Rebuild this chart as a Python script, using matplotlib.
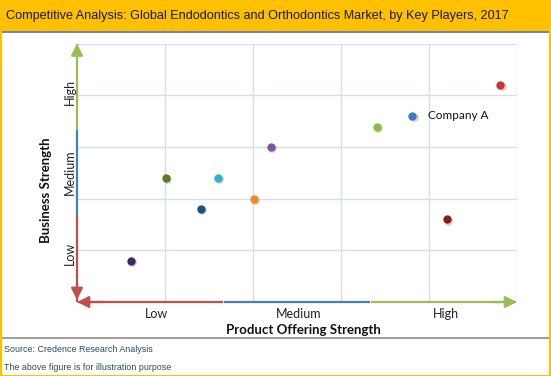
import matplotlib
matplotlib.use("Agg")
import matplotlib.pyplot as plt
from matplotlib.patches import Rectangle

# data (0..5 scale on both axes)
companies = ["P1", "P2", "P3", "P4", "P5", "P6", "P7", "Company A", "P9", "P10"]
product_strength = [0.61, 1.01, 1.60, 1.41, 2.01, 2.20, 3.41, 3.81, 4.81, 4.20]
business_strength = [0.80, 2.40, 2.40, 1.80, 2.00, 3.00, 3.39, 3.60, 4.20, 1.60]
point_colors = ["#3d2b5a", "#5b7a24", "#33afcf", "#1f4e85", "#f28a24",
                "#7c55a8", "#8dbc3c", "#3c78c2", "#cc3333", "#8c1c1c"]
labelled = ["Company A"]
levels = ["Low", "Medium", "High"]
level_colors = ["#c0504d", "#4a7ebb", "#9bbb59"]

W, H = 551, 376
fig = plt.figure(figsize=(W / 100, H / 100), dpi=100)
fig.patch.set_facecolor("white")

# title band
fig.patches.append(Rectangle((0, 1 - 31 / H), 1, 31 / H, transform=fig.transFigure,
                             facecolor="#ffc000", edgecolor="none", zorder=0))
fig.patches.append(Rectangle((0, 1 - 33 / H), 1, 2 / H, transform=fig.transFigure,
                             facecolor="#6f88a8", edgecolor="none", zorder=1))
# outer gold border
fig.patches.append(Rectangle((0.5 / W, 0.5 / H), 1 - 1.5 / W, 1 - 1 / H, transform=fig.transFigure,
                             facecolor="none", edgecolor="#ffc000", linewidth=1.5, zorder=5))
# footer separator
fig.lines.append(plt.Line2D([2 / W, 1 - 2 / W], [1 - 338 / H] * 2, transform=fig.transFigure,
                            color="#8c8c8c", linewidth=1.2))

fig.text(6 / W, 1 - 16 / H, "Competitive Analysis: Global Endodontics and Orthodontics Market, by Key Players, 2017",
         fontsize=9.05, family="Liberation Sans", va="center", ha="left", color="#1a1a1a")
fig.text(4 / W, 1 - 349 / H, "Source: Credence Research Analysis",
         fontsize=6.4, family="Liberation Sans", va="center", color="#2f4a5a")
fig.text(4 / W, 1 - 367 / H, "The above figure is for illustration purpose",
         fontsize=6.4, family="Liberation Sans", va="center", color="#2f4a5a")

x0, x1, y0, y1 = 77, 517, 302, 43.5
ax = fig.add_axes([x0 / W, 1 - y0 / H, (x1 - x0) / W, (y0 - y1) / H])
ax.set_xlim(0, 5)
ax.set_ylim(0, 5)
for s in ax.spines.values():
    s.set_visible(False)
ax.set_xticks([1, 2, 3, 4, 5])
ax.set_yticks([1, 2, 3, 4, 5])
ax.tick_params(length=0, labelbottom=False, labelleft=False)
ax.grid(True, color="#d5e0ec", linewidth=1.0)
ax.set_axisbelow(True)

# coloured axis segments
seg = 5 / 3
for i, c in enumerate(level_colors):
    ax.plot([i * seg + 0.02, (i + 1) * seg - 0.02], [0, 0], color=c, lw=1.6, clip_on=False, zorder=3)
    ax.plot([0, 0], [i * seg + 0.02, (i + 1) * seg - 0.02], color=c, lw=1.6, clip_on=False, zorder=3)

arrow = dict(arrowstyle="-|>,head_length=0.7,head_width=0.35", lw=1.6, shrinkA=0, shrinkB=0)
ax.annotate("", xy=(5, 0), xytext=(4.7, 0), arrowprops=dict(arrow, color=level_colors[2]),
            annotation_clip=False)
ax.annotate("", xy=(0, 5), xytext=(0, 4.7), arrowprops=dict(arrow, color=level_colors[2]),
            annotation_clip=False)
ax.annotate("", xy=(0, 0), xytext=(0.3, 0), arrowprops=dict(arrow, color=level_colors[0]),
            annotation_clip=False)
ax.annotate("", xy=(0, 0.04), xytext=(0, 0.4), arrowprops=dict(arrow, color=level_colors[0]),
            annotation_clip=False)

# points
for name, xv, yv, c in zip(companies, product_strength, business_strength, point_colors):
    ax.plot(xv + 0.015, yv - 0.03, "o", color="#9a9a9a", alpha=0.45, markersize=6.2,
            markeredgewidth=0, zorder=4)
    ax.plot(xv, yv, "o", color=c, markersize=6, markeredgewidth=0, zorder=5)
    if name in labelled:
        ax.text(xv + 0.18, yv, name, fontsize=8.5, family="Lato", va="center", ha="left", color="#111111")

# level labels
for lab, xp in zip(levels, [0.90, 2.52, 4.19]):
    ax.text(xp, -0.12, lab, fontsize=9, family="Lato", ha="center", va="top", color="#222222")
for lab, yp in zip(levels, [0.95, 2.52, 4.07]):
    ax.text(-0.085, yp, lab, rotation=90, fontsize=9, family="Lato", ha="center", va="center",
            color="#222222")

ax.text(2.57, -0.42, "Product Offering Strength", fontsize=9.5, family="Lato", weight="bold",
        ha="center", va="top", color="#111111")
ax.text(-0.35, 2.16, "Business Strength", rotation=90, fontsize=9.5, family="Lato", weight="bold",
        ha="center", va="center", color="#111111")

fig.savefig("out.png", dpi=100, facecolor="white")
